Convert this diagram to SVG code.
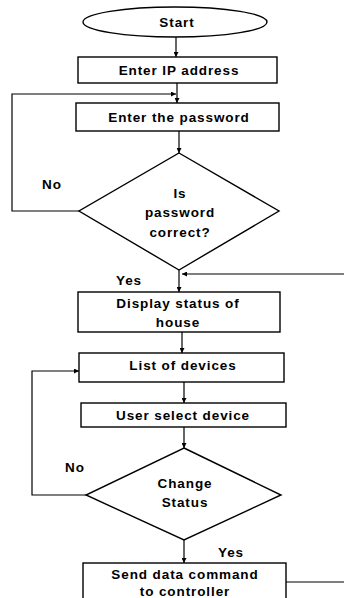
<svg xmlns="http://www.w3.org/2000/svg" width="344" height="598" viewBox="0 0 344 598">
<defs>
<marker id="ah" viewBox="0 0 10 10" refX="10" refY="5" markerWidth="5" markerHeight="5" orient="auto-start-reverse" markerUnits="userSpaceOnUse">
<path d="M0,0 L10,5 L0,10 z" fill="#000"/>
</marker>
<style>
.s{fill:#fff;stroke:#000;stroke-width:1.4}
.c{fill:none;stroke:#000;stroke-width:1.2}
.a{marker-end:url(#ah)}
text{font-family:"Liberation Sans",Arial,sans-serif;font-weight:bold;font-size:13.5px;letter-spacing:0.9px;fill:#000;text-anchor:middle}
.l{text-anchor:start}
</style>
</defs>
<rect width="344" height="598" fill="#fff"/>
<g id="connectors">
<line class="c a" x1="176" y1="37" x2="176" y2="57"/>
<line class="c a" x1="177" y1="83" x2="177" y2="103"/>
<polyline class="c a" points="79,211 12,211 12,94 176,94"/>
<line class="c a" x1="179" y1="131" x2="179" y2="153"/>
<line class="c a" x1="179" y1="270" x2="179" y2="292"/>
<line class="c a" x1="344" y1="274" x2="182" y2="274"/>
<line class="c a" x1="182" y1="332" x2="182" y2="353"/>
<line class="c a" x1="184" y1="382" x2="184" y2="403"/>
<line class="c a" x1="184" y1="427" x2="184" y2="448"/>
<polyline class="c a" points="86,495 32,495 32,371 79,371"/>
<line class="c a" x1="184" y1="540" x2="184" y2="563"/>
<line class="c" x1="286" y1="582" x2="344" y2="582"/>
</g>
<g id="start">
<ellipse class="s" cx="175" cy="22" rx="92" ry="15"/>
<text x="177" y="27">Start</text>
</g>
<g id="enter-ip">
<rect class="s" x="78" y="57" width="199" height="26"/>
<text x="179" y="75">Enter IP address</text>
</g>
<g id="enter-password">
<rect class="s" x="76" y="103" width="203" height="28"/>
<text x="179" y="122">Enter the password</text>
</g>
<g id="password-correct">
<polygon class="s" points="179,153 279,211 179,270 79,211"/>
<text x="180" y="198">Is</text>
<text x="180" y="217">password</text>
<text x="180" y="237">correct?</text>
</g>
<g id="labels1">
<text class="l" x="42" y="189">No</text>
<text class="l" x="116" y="285">Yes</text>
</g>
<g id="display-status">
<rect class="s" x="78" y="292" width="202" height="40"/>
<text x="178" y="308">Display status of</text>
<text x="178" y="327">house</text>
</g>
<g id="list-devices">
<rect class="s" x="79" y="353" width="205" height="29"/>
<text x="183" y="370">List of devices</text>
</g>
<g id="user-select">
<rect class="s" x="81" y="403" width="205" height="24"/>
<text x="183" y="420">User select device</text>
</g>
<g id="change-status">
<polygon class="s" points="184,448 281,495 184,540 86,495"/>
<text x="185" y="488">Change</text>
<text x="185" y="507">Status</text>
</g>
<g id="labels2">
<text class="l" x="65" y="472">No</text>
<text class="l" x="218" y="557">Yes</text>
</g>
<g id="send-data">
<rect class="s" x="83" y="563" width="203" height="40"/>
<text x="185" y="579">Send data command</text>
<text x="185" y="596">to controller</text>
</g>
</svg>
